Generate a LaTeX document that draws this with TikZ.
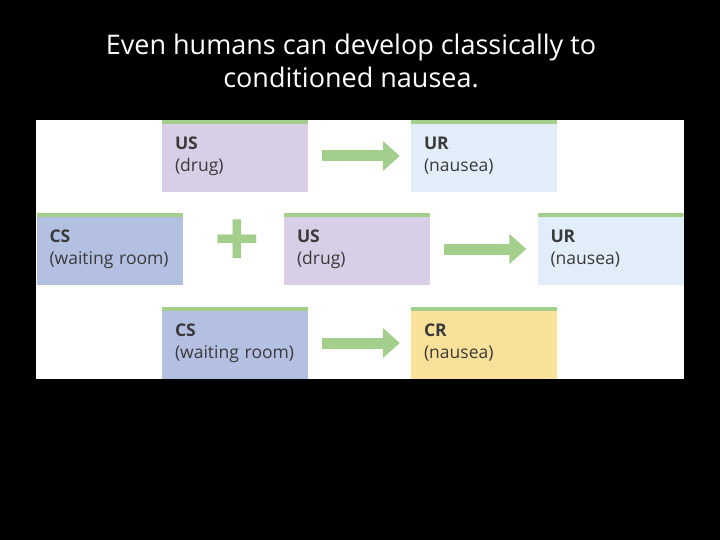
\documentclass[tikz,border=0pt]{standalone}
\usepackage{fontspec}
\setmainfont{Open Sans}
\usetikzlibrary{arrows.meta,positioning}
\definecolor{usfill}{HTML}{D8CEE6}
\definecolor{urfill}{HTML}{E1EEF9}
\definecolor{csfill}{HTML}{B3C0E2}
\definecolor{crfill}{HTML}{F9E19A}
\definecolor{strip}{HTML}{A3CE8B}
\definecolor{ink}{HTML}{3A3A3A}
\tikzset{
  box/.style={fill=#1, minimum width=146pt, minimum height=72pt, text width=120pt,
    align=left, inner sep=0pt, font=\fontsize{17.5}{22}\selectfont, text=ink,
    path picture={\fill[strip] (path picture bounding box.north west) rectangle
      ([yshift=-4pt]path picture bounding box.north east);}},
  pairarrow/.style={strip, line width=11pt, -{Triangle[length=17pt,width=29pt]},
    shorten <=14pt, shorten >=11pt}
}
\begin{document}
\begin{tikzpicture}[x=1pt,y=-1pt]
  \fill[black] (0,0) rectangle (720,540);
  \useasboundingbox (0,0) rectangle (720,540);
  \node[white, align=center, font=\fontsize{27}{33}\selectfont] (title) at (351,61)
    {Even humans can develop classically to\\conditioned nausea.};
  \fill[white] (36,120) rectangle (684,379);
  % first row
  \node[box=usfill] (us1) at (235,156) {\textbf{US}\\(drug)};
  \node[box=urfill] (ur1) at (484,156) {\textbf{UR}\\(nausea)};
  \draw[pairarrow] (us1) -- (ur1);
  % second row
  \node[box=csfill] (cs2) at (109.5,249) {\textbf{CS}\\(waiting room)};
  \node[box=usfill] (us2) at (357,249) {\textbf{US}\\(drug)};
  \node[box=urfill] (ur2) at (610.5,249) {\textbf{UR}\\(nausea)};
  \node[strip, font=\fontsize{80}{80}\selectfont\bfseries, inner sep=0pt] (plus) at (237,244) {+};
  \draw[pairarrow] (us2) -- (ur2);
  % third row
  \node[box=csfill] (cs3) at (235,343) {\textbf{CS}\\(waiting room)};
  \node[box=crfill] (cr3) at (484,343) {\textbf{CR}\\(nausea)};
  \draw[pairarrow] (cs3) -- (cr3);
\end{tikzpicture}
\end{document}
